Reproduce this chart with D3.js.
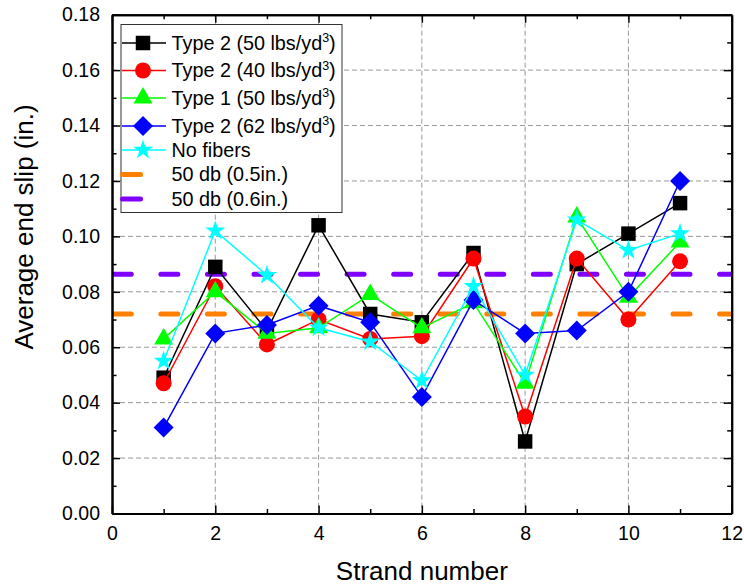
<!DOCTYPE html>
<html>
<head>
<meta charset="utf-8">
<script src="https://cdn.jsdelivr.net/npm/d3@7"></script>
<style>
	body { margin: 0; background: #fff; }
	svg { font-family: "Liberation Sans", Arial, sans-serif; }
</style>
</head>
<body>
<svg id="chart" width="744" height="586"></svg>
<script>
// data
var strands = [1, 2, 3, 4, 5, 6, 7, 8, 9, 10, 11];
var type2_50 = [0.049, 0.089, 0.066, 0.104, 0.072, 0.069, 0.094, 0.026, 0.090, 0.101, 0.112];
var type2_40 = [0.047, 0.082, 0.061, 0.070, 0.063, 0.064, 0.092, 0.035, 0.092, 0.070, 0.091];
var type1_50 = [0.063, 0.080, 0.065, 0.067, 0.079, 0.067, 0.076, 0.047, 0.107, 0.078, 0.098];
var type2_62 = [0.031, 0.065, 0.068, 0.075, 0.069, 0.042, 0.077, 0.065, 0.066, 0.080, 0.120];
var noFibers = [0.055, 0.102, 0.086, 0.067, 0.062, 0.048, 0.082, 0.050, 0.106, 0.095, 0.101];
var db50_05 = 0.072;
var db50_06 = 0.0863;

var xMajor = [0, 2, 4, 6, 8, 10, 12];
var xMinor = [1, 3, 5, 7, 9, 11];
var yMajor = [0, 0.02, 0.04, 0.06, 0.08, 0.10, 0.12, 0.14, 0.16, 0.18];
var yMinor = [0.01, 0.03, 0.05, 0.07, 0.09, 0.11, 0.13, 0.15, 0.17];

var diamond = {
	draw: function(ctx, size) {
		var r = Math.sqrt(size / 2);
		ctx.moveTo(0, -r);
		ctx.lineTo(r, 0);
		ctx.lineTo(0, r);
		ctx.lineTo(-r, 0);
		ctx.closePath();
	}
};

var series = [
	{ name: "Type 2 (50 lbs/yd", sup: "3", tail: ")", values: type2_50, color: "#000000", symbol: d3.symbolSquare, size: 210 },
	{ name: "Type 2 (40 lbs/yd", sup: "3", tail: ")", values: type2_40, color: "#ff0000", symbol: d3.symbolCircle, size: 201 },
	{ name: "Type 1 (50 lbs/yd", sup: "3", tail: ")", values: type1_50, color: "#00ff00", symbol: d3.symbolTriangle, size: 156 },
	{ name: "Type 2 (62 lbs/yd", sup: "3", tail: ")", values: type2_62, color: "#0000ff", symbol: diamond, size: 200 },
	{ name: "No fibers", sup: "", tail: "", values: noFibers, color: "#00ffff", symbol: d3.symbolStar, size: 124 }
];
var refLines = [
	{ name: "50 db (0.5in.)", value: db50_05, color: "#ff8000" },
	{ name: "50 db (0.6in.)", value: db50_06, color: "#8000ff" }
];

var svg = d3.select("#chart");
var margin = { top: 14.7, right: 12.3, bottom: 72.5, left: 112 };
var width = 744 - margin.left - margin.right;
var height = 586 - margin.top - margin.bottom;

var x = d3.scaleLinear().domain([0, 12]).range([0, width]);
var y = d3.scaleLinear().domain([0, 0.18]).range([height, 0]);

var g = svg.append("g").attr("transform", "translate(" + margin.left + "," + margin.top + ")");

// grid
g.append("g").selectAll("line").data(xMajor.slice(1, -1)).enter().append("line")
	.attr("x1", function(d) { return x(d); }).attr("x2", function(d) { return x(d); })
	.attr("y1", 0).attr("y2", height)
	.attr("stroke", "#999").attr("stroke-width", 1).attr("stroke-dasharray", "5,3");
g.append("g").selectAll("line").data(yMajor.slice(1, -1)).enter().append("line")
	.attr("y1", function(d) { return y(d); }).attr("y2", function(d) { return y(d); })
	.attr("x1", 0).attr("x2", width)
	.attr("stroke", "#999").attr("stroke-width", 1).attr("stroke-dasharray", "5,3");

// reference lines
g.append("defs").append("clipPath").attr("id", "plotClip")
	.append("rect").attr("width", width).attr("height", height);
g.append("g").attr("clip-path", "url(#plotClip)").selectAll("line").data(refLines).enter().append("line")
	.attr("x1", 2.3).attr("x2", width)
	.attr("y1", function(d) { return y(d.value); }).attr("y2", function(d) { return y(d.value); })
	.attr("stroke", function(d) { return d.color; })
	.attr("stroke-width", 5)
	.attr("stroke-linecap", "round")
	.attr("stroke-dasharray", "17,29.56");

// series
var line = d3.line()
	.x(function(d, i) { return x(strands[i]); })
	.y(function(d) { return y(d); });

series.forEach(function(s) {
	var sg = g.append("g");
	sg.append("path")
		.attr("d", line(s.values))
		.attr("fill", "none")
		.attr("stroke", s.color)
		.attr("stroke-width", 1.5);
	sg.selectAll("path.marker").data(s.values).enter().append("path")
		.attr("class", "marker")
		.attr("transform", function(d, i) { return "translate(" + x(strands[i]) + "," + y(d) + ")"; })
		.attr("d", d3.symbol().type(s.symbol).size(s.size))
		.attr("fill", s.color);
});

// axes
function styleAxis(sel) {
	sel.select(".domain").attr("stroke-width", 2);
	sel.selectAll(".tick line").attr("stroke-width", 1.5);
	sel.selectAll("text").attr("font-size", 19.5).attr("fill", "#000")
		.attr("font-family", "'Liberation Sans', Arial, sans-serif");
}

g.append("g").attr("transform", "translate(0," + height + ")")
	.call(d3.axisBottom(x).tickValues(xMajor).tickSize(-8).tickSizeOuter(0).tickPadding(13).tickFormat(d3.format("d")))
	.call(styleAxis);
g.append("g").attr("transform", "translate(0," + height + ")")
	.call(d3.axisBottom(x).tickValues(xMinor).tickSize(-4.5).tickSizeOuter(0).tickFormat(""))
	.call(styleAxis);
g.append("g")
	.call(d3.axisTop(x).tickValues(xMajor).tickSize(-8).tickSizeOuter(0).tickFormat(""))
	.call(styleAxis);
g.append("g")
	.call(d3.axisTop(x).tickValues(xMinor).tickSize(-4.5).tickSizeOuter(0).tickFormat(""))
	.call(styleAxis);

g.append("g")
	.call(d3.axisLeft(y).tickValues(yMajor).tickSize(-8).tickSizeOuter(0).tickPadding(12).tickFormat(d3.format(".2f")))
	.call(styleAxis);
g.append("g")
	.call(d3.axisLeft(y).tickValues(yMinor).tickSize(-4.5).tickSizeOuter(0).tickFormat(""))
	.call(styleAxis);
g.append("g").attr("transform", "translate(" + width + ",0)")
	.call(d3.axisRight(y).tickValues(yMajor).tickSize(-8).tickSizeOuter(0).tickFormat(""))
	.call(styleAxis);
g.append("g").attr("transform", "translate(" + width + ",0)")
	.call(d3.axisRight(y).tickValues(yMinor).tickSize(-4.5).tickSizeOuter(0).tickFormat(""))
	.call(styleAxis);

// axis titles
svg.append("text")
	.attr("x", margin.left + width / 2)
	.attr("y", 580)
	.attr("text-anchor", "middle")
	.attr("font-size", 26)
	.text("Strand number");
svg.append("text")
	.attr("transform", "translate(33," + 227 + ") rotate(-90)")
	.attr("text-anchor", "middle")
	.attr("font-size", 26)
	.text("Average end slip (in.)");

// legend
var legendRows = [43, 70.5, 98, 126, 150, 174.5, 199];
var legend = svg.append("g");
legend.append("rect")
	.attr("x", 121).attr("y", 24.5).attr("width", 221).attr("height", 188)
	.attr("fill", "#fff").attr("stroke", "#333").attr("stroke-width", 1);

series.forEach(function(s, i) {
	var ly = legendRows[i];
	legend.append("line")
		.attr("x1", 122).attr("x2", 166).attr("y1", ly).attr("y2", ly)
		.attr("stroke", s.color).attr("stroke-width", 1.5);
	legend.append("path")
		.attr("transform", "translate(143," + ly + ")")
		.attr("d", d3.symbol().type(s.symbol).size(s.size))
		.attr("fill", s.color);
	var t = legend.append("text")
		.attr("x", 171.5).attr("y", ly + 6.8)
		.attr("font-size", 19.8);
	t.append("tspan").text(s.name);
	if (s.sup) {
		t.append("tspan").attr("font-size", 12.5).attr("dy", -7.5).text(s.sup);
		t.append("tspan").attr("dy", 7.5).text(s.tail);
	}
});

refLines.forEach(function(r, i) {
	var ly = legendRows[series.length + i];
	legend.append("line")
		.attr("x1", 122.5).attr("x2", 140.5).attr("y1", ly).attr("y2", ly)
		.attr("stroke", r.color).attr("stroke-width", 5).attr("stroke-linecap", "round");
	legend.append("text")
		.attr("x", 171.5).attr("y", ly + 6.8)
		.attr("font-size", 19.8)
		.text(r.name);
});
</script>
</body>
</html>
